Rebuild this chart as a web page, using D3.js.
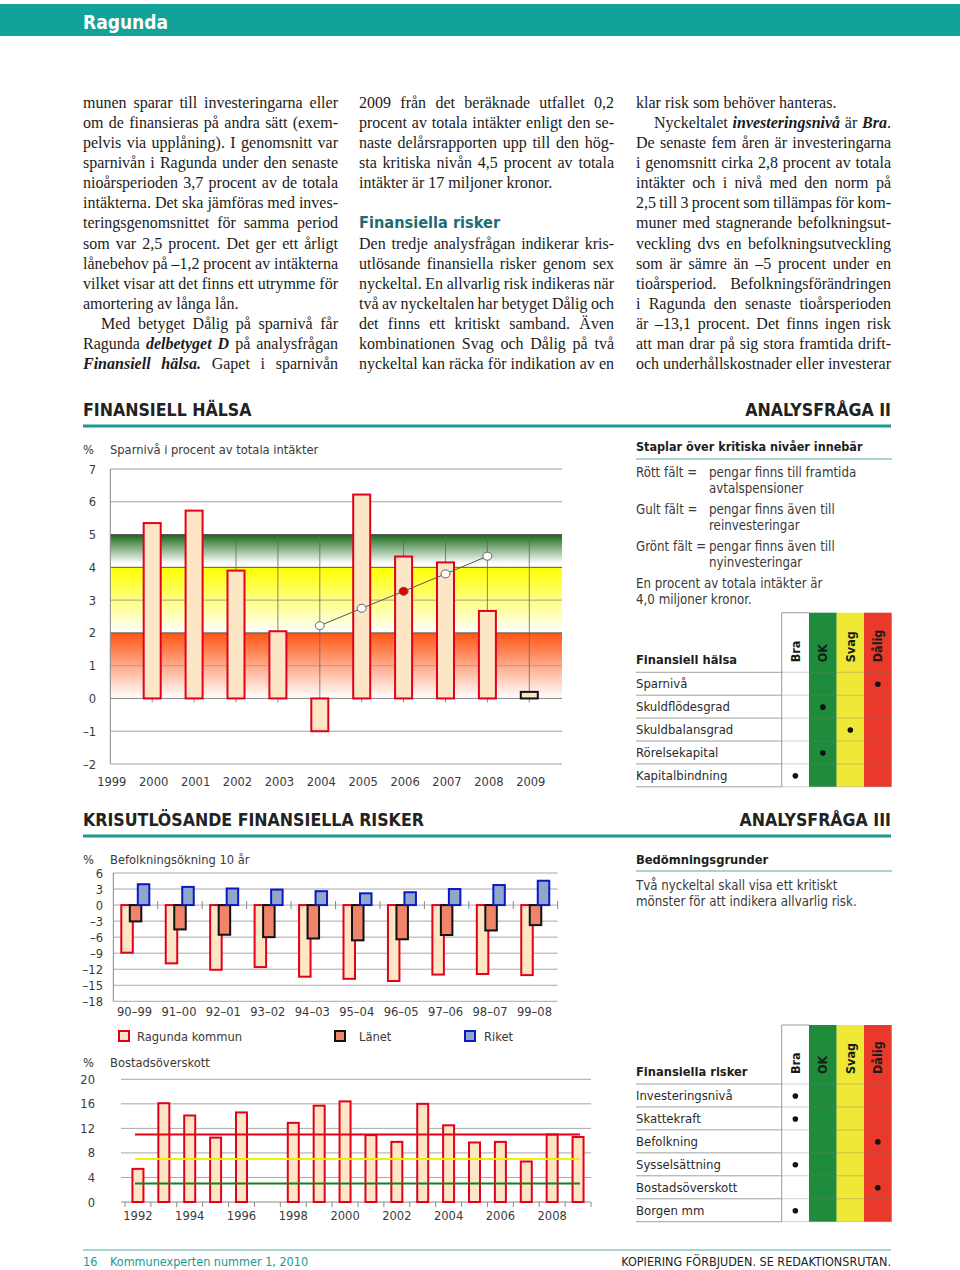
<!DOCTYPE html>
<html><head><meta charset="utf-8">
<script src="https://cdn.jsdelivr.net/npm/d3@7/dist/d3.min.js"></script>
<style>body{margin:0;background:#fff}svg{display:block}</style>
</head><body>
<svg id="page" width="960" height="1270"></svg>
<script>
// ================= DATA =================
const pageTitle = "Ragunda";
const col1Lines = [
 "munen sparar till investeringarna eller",
 "om de finansieras på andra sätt (exem-",
 "pelvis via upplåning). I genomsnitt var",
 "sparnivån i Ragunda under den senaste",
 "nioårsperioden 3,7 procent av de totala",
 "intäkterna. Det ska jämföras med inves-",
 "teringsgenomsnittet för samma period",
 "som var 2,5 procent. Det ger ett årligt",
 "lånebehov på –1,2 procent av intäkterna",
 "vilket visar att det finns ett utrymme för",
 "amortering av långa lån.$",
 "^Med betyget Dålig på sparnivå får",
 "Ragunda {delbetyget D} på analysfrågan",
 "{Finansiell hälsa.} Gapet i sparnivån"
];
const col2Lines = [
 "2009 från det beräknade utfallet 0,2",
 "procent av totala intäkter enligt den se-",
 "naste delårsrapporten upp till den hög-",
 "sta kritiska nivån 4,5 procent av totala",
 "intäkter är 17 miljoner kronor.$",
 "",
 "",
 "Den tredje analysfrågan indikerar kris-",
 "utlösande finansiella risker genom sex",
 "nyckeltal. En allvarlig risk indikeras när",
 "två av nyckeltalen har betyget Dålig och",
 "det finns ett kritiskt samband. Även",
 "kombinationen Svag och Dålig på två",
 "nyckeltal kan räcka för indikation av en"
];
const col2Heading = "Finansiella risker";
const col3Lines = [
 "klar risk som behöver hanteras.$",
 "^Nyckeltalet {investeringsnivå} är {Bra}.",
 "De senaste fem åren är investeringarna",
 "i genomsnitt cirka 2,8 procent av totala",
 "intäkter och i nivå med den norm på",
 "2,5 till 3 procent som tillämpas för kom-",
 "muner med stagnerande befolkningsut-",
 "veckling dvs en befolkningsutveckling",
 "som är sämre än –5 procent under en",
 "tioårsperiod.  Befolkningsförändringen",
 "i Ragunda den senaste tioårsperioden",
 "är –13,1 procent. Det finns ingen risk",
 "att man drar på sig stora framtida drift-",
 "och underhållskostnader eller investerar"
];

// Chart 1: Sparnivå
const sparTitle = "Sparnivå i procent av totala intäkter";
const sparYears = [2000,2001,2002,2003,2004,2005,2006,2007,2008,2009];
const sparValues = [5.35,5.73,3.9,2.05,-1.0,6.22,4.33,4.15,2.67,0.2];
const sparEstimateYear = 2009;
const sparAxisYears = [1999,2000,2001,2002,2003,2004,2005,2006,2007,2008,2009];
const sparTicks = [7,6,5,4,3,2,1,0,-1,-2];
const sparBandLimits = [0,2,4,5];
const trendYears = [2004,2005,2006,2007,2008];
const trendValues = [2.22,2.75,3.27,3.8,4.34];
const trendHighlightYear = 2006;

// Chart 2: Befolkningsökning
const befTitle = "Befolkningsökning 10 år";
const befPeriods = ["90–99","91–00","92–01","93–02","94–03","95–04","96–05","97–06","98–07","99–08"];
const befRagunda = [-8.9,-10.9,-12.1,-11.6,-13.4,-13.8,-14.2,-13.0,-12.9,-13.1];
const befLanet = [-3.05,-4.55,-5.55,-6.0,-6.25,-6.6,-6.4,-5.6,-4.75,-3.75];
const befRiket = [3.9,3.4,3.1,2.9,2.6,2.2,2.4,3.0,3.75,4.55];
const befTicks = [6,3,0,-3,-6,-9,-12,-15,-18];
const befSeriesNames = ["Ragunda kommun","Länet","Riket"];

// Chart 3: Bostadsöverskott
const bostTitle = "Bostadsöverskott";
const bostYears = [1992,1993,1994,1995,1996,1997,1998,1999,2000,2001,2002,2003,2004,2005,2006,2007,2008,2009];
const bostValues = [5.4,16.1,14.1,10.5,14.6,null,12.9,15.7,16.4,10.9,9.8,16.0,12.5,9.7,9.8,6.6,11.0,10.6];
const bostLabelYears = [1992,1994,1996,1998,2000,2002,2004,2006,2008];
const bostTicks = [20,16,12,8,4,0];
const bostLimits = [11,7,3]; // red, yellow, green

// Right panel
const legendTitle = "Staplar över kritiska nivåer innebär";
const legendLines = [
 ["Rött fält =","pengar finns till framtida"],
 ["","avtalspensioner"],
 ["Gult fält =","pengar finns även till"],
 ["","reinvesteringar"],
 ["Grönt fält =","pengar finns även till"],
 ["","nyinvesteringar"],
 ["En procent av totala intäkter är",""],
 ["4,0 miljoner kronor.",""]
];
const ratingCols = ["Bra","OK","Svag","Dålig"];
const halsaTitle = "Finansiell hälsa";
const halsaRows = ["Sparnivå","Skuldflödesgrad","Skuldbalansgrad","Rörelsekapital","Kapitalbindning"];
const halsaRatings = ["Dålig","OK","Svag","OK","Bra"];
const riskTitle = "Finansiella risker";
const riskRows = ["Investeringsnivå","Skattekraft","Befolkning","Sysselsättning","Bostadsöverskott","Borgen mm"];
const riskRatings = ["Bra","Bra","Dålig","Bra","Dålig","Bra"];
const bedTitle = "Bedömningsgrunder";
const bedLines = ["Två nyckeltal skall visa ett kritiskt","mönster för att indikera allvarlig risk."];

const section1 = ["FINANSIELL HÄLSA","ANALYSFRÅGA II"];
const section2 = ["KRISUTLÖSANDE FINANSIELLA RISKER","ANALYSFRÅGA III"];
const footerLeft = ["16","Kommunexperten nummer 1, 2010"];
const footerRight = "KOPIERING FÖRBJUDEN. SE REDAKTIONSRUTAN.";

// ================= DRAWING =================
const SANS = "'DejaVu Sans Condensed','DejaVu Sans',sans-serif";
const SERIF = "'Liberation Serif','Times New Roman',serif";
const TEAL = "#13a29a";
const LIGHTTEAL = "#a9d4cf";
const LABEL = "#3a3a3a";
const BARFILL = "#fde6c6", BARRED = "#e2001a";
const svg = d3.select("#page");
const defs = svg.append("defs");

// Header bar
svg.append("rect").attr("x",0).attr("y",4).attr("width",960).attr("height",32).attr("fill",TEAL);
svg.append("text").attr("x",83).attr("y",29).attr("font-family",SANS).attr("font-weight","bold")
  .attr("font-size",19).attr("fill","#fff").text(pageTitle);

// Body text
function bodyLine(x, y, width, raw) {
  if (!raw) return;
  let justify = true, indent = 0, s = raw;
  if (s.endsWith("$")) { justify = false; s = s.slice(0,-1); }
  if (s.startsWith("^")) { indent = 18; s = s.slice(1); }
  s = s.replace(/\s+/g," ");
  const t = svg.append("text").attr("x", x+indent).attr("y", y)
    .attr("font-family",SERIF).attr("font-size",16).attr("fill","#1b1b1b");
  s.split(/(\{[^}]*\})/).forEach(p => {
    if (!p) return;
    if (p.startsWith("{")) t.append("tspan").attr("font-weight","bold").attr("font-style","italic").text(p.slice(1,-1));
    else t.append("tspan").text(p);
  });
  if (justify) {
    const len = t.node().getComputedTextLength();
    const spaces = (s.replace(/[{}]/g,"").match(/ /g)||[]).length;
    if (spaces) t.style("word-spacing", ((width-indent-len)/spaces).toFixed(3)+"px");
  }
}
const lineY = i => 107.5 + i*20.15;
col1Lines.forEach((l,i)=>bodyLine(83, lineY(i), 255, l));
col2Lines.forEach((l,i)=>bodyLine(359, lineY(i), 255, l));
col3Lines.forEach((l,i)=>bodyLine(636, lineY(i), 255, l));
svg.append("text").attr("x",359).attr("y",lineY(6)).attr("font-family",SANS).attr("font-weight","bold")
  .attr("font-size",16.2).attr("fill","#1f6d74").text(col2Heading);

// Section headers
function sectionHeader(y, left, right) {
  svg.append("text").attr("x",83).attr("y",y).attr("font-family",SANS).attr("font-weight","bold")
    .attr("font-size",17.6).attr("fill","#222").text(left);
  svg.append("text").attr("x",891).attr("y",y).attr("text-anchor","end").attr("font-family",SANS).attr("font-weight","bold")
    .attr("font-size",17.6).attr("fill","#222").text(right);
  svg.append("rect").attr("x",83).attr("y",y+9).attr("width",808).attr("height",3).attr("fill","#1a9a91");
}
sectionHeader(415.5, section1[0], section1[1]);
sectionHeader(825.5, section2[0], section2[1]);

function label(x,y,txt,opts={}) {
  return svg.append("text").attr("x",x).attr("y",y).attr("font-family",SANS)
    .attr("font-size",opts.size||12.8).attr("fill",opts.fill||LABEL)
    .attr("font-weight",opts.bold?"bold":null)
    .attr("text-anchor",opts.anchor||"start").text(txt);
}
const fmtNeg = t => t<0 ? "–"+Math.abs(t) : String(t);

// ---------- Chart 1 ----------
(function(){
  const left = 110.3, right = 562, top = 469, bottom = 764;
  const x = d3.scaleLinear().domain([sparAxisYears[0], sparAxisYears[sparAxisYears.length-1]]).range([left, 529.3]);
  const y = d3.scaleLinear().domain([d3.min(sparTicks), d3.max(sparTicks)]).range([bottom, top]);
  label(83, 453.5, "%");
  label(110, 453.5, sparTitle);
  const g = svg.append("g");
  const grads = [
    {id:"gRed", c:"#ff5513", end:1},
    {id:"gYel", c:"#ffff00", end:1},
    {id:"gGrn", c:"#1a681a", end:0.88}
  ];
  grads.forEach(gr=>{
    const lg = defs.append("linearGradient").attr("id",gr.id).attr("x1",0).attr("y1",0).attr("x2",0).attr("y2",1);
    lg.append("stop").attr("offset",0).attr("stop-color",gr.c);
    lg.append("stop").attr("offset",gr.end).attr("stop-color","#fff");
  });
  for (let i=0;i<sparBandLimits.length-1;i++){
    const lo = sparBandLimits[i], hi = sparBandLimits[i+1];
    g.append("rect").attr("x",left).attr("width",right-left).attr("y",y(hi)).attr("height",y(lo)-y(hi))
      .attr("fill",`url(#${grads[i].id})`);
  }
  sparTicks.forEach(t=>{
    g.append("line").attr("x1",left).attr("x2",right).attr("y1",y(t)).attr("y2",y(t))
      .attr("stroke", sparBandLimits.includes(t)&&t>0 ? "#555" : (t===0?"#888":"#a0a0a0")).attr("stroke-width",1);
    label(96, y(t)+4.5, fmtNeg(t), {anchor:"end"});
  });
  sparYears.forEach(yr=>{
    g.append("line").attr("x1",x(yr)).attr("x2",x(yr)).attr("y1",y(5)).attr("y2",y(0))
      .attr("stroke","#666").attr("stroke-width",0.8);
  });
  g.append("line").attr("x1",left).attr("x2",left).attr("y1",top).attr("y2",bottom).attr("stroke","#888");
  sparYears.forEach(yr=>{
    g.append("line").attr("x1",x(yr)).attr("x2",x(yr)).attr("y1",y(0)).attr("y2",y(0)+4).attr("stroke","#888");
  });
  g.selectAll(".b1").data(sparYears.map((yr,i)=>({yr,v:sparValues[i]}))).join("rect")
    .attr("x",d=>x(d.yr)-8.5).attr("width",17)
    .attr("y",d=>y(Math.max(0,d.v))).attr("height",d=>Math.abs(y(d.v)-y(0)))
    .attr("fill",BARFILL).attr("stroke",d=>d.yr===sparEstimateYear?"#111":BARRED).attr("stroke-width",2);
  const pts = trendYears.map((yr,i)=>[x(yr),y(trendValues[i])]);
  g.append("path").attr("d",d3.line()(pts)).attr("fill","none").attr("stroke","#555").attr("stroke-width",1);
  g.selectAll(".pt").data(trendYears.map((yr,i)=>({yr,v:trendValues[i]}))).join("ellipse")
    .attr("cx",d=>x(d.yr)).attr("cy",d=>y(d.v)).attr("rx",4.5).attr("ry",4)
    .attr("fill",d=>d.yr===trendHighlightYear?"#e00000":"#fff").attr("stroke","#555").attr("stroke-width",0.9);
  sparAxisYears.forEach(yr=>label(x(yr)+1.5, 786, String(yr), {anchor:"middle"}));
})();

// ---------- Chart 2 ----------
(function(){
  const left = 113.3, right = 557.7, top = 873, bottom = 1001.3;
  const x = d3.scaleBand().domain(befPeriods).range([left,right]);
  const y = d3.scaleLinear().domain([d3.min(befTicks), d3.max(befTicks)]).range([bottom, top]);
  label(83, 863.5, "%");
  label(110, 863.5, befTitle);
  const g = svg.append("g");
  befTicks.forEach(t=>{
    g.append("line").attr("x1",left).attr("x2",right).attr("y1",y(t)).attr("y2",y(t)).attr("stroke","#a8a8a8");
    label(103, y(t)+4.5, fmtNeg(t), {anchor:"end"});
  });
  g.append("line").attr("x1",left).attr("x2",left).attr("y1",top).attr("y2",bottom).attr("stroke","#888");
  befPeriods.slice(1).concat([null]).forEach((p)=>{
    const xx = p===null ? right : x(p);
    g.append("line").attr("x1",xx).attr("x2",xx).attr("y1",y(0)-4).attr("y2",y(0)+4).attr("stroke","#888");
  });
  const series = [
    {vals:befRagunda, fill:BARFILL, stroke:BARRED, off:8},
    {vals:befLanet, fill:"#f08469", stroke:"#111", off:16.5},
    {vals:befRiket, fill:"#8fa7c9", stroke:"#0c18c8", off:24.5}
  ];
  series.forEach(s=>{
    g.selectAll(null).data(befPeriods.map((p,i)=>({p,v:s.vals[i]}))).join("rect")
      .attr("x",d=>x(d.p)+s.off).attr("width",11.5)
      .attr("y",d=>y(Math.max(0,d.v))).attr("height",d=>Math.abs(y(d.v)-y(0)))
      .attr("fill",s.fill).attr("stroke",s.stroke).attr("stroke-width",2);
  });
  befPeriods.forEach(p=>label(x(p)+x.bandwidth()/2-1, 1015.5, p, {anchor:"middle"}));
  const lx = [119, 335, 465], tx = [137, 359, 484];
  series.forEach((s,i)=>{
    g.append("rect").attr("x",lx[i]).attr("y",1031).attr("width",10).attr("height",10)
      .attr("fill",s.fill).attr("stroke",s.stroke).attr("stroke-width",2);
    label(tx[i], 1040.5, befSeriesNames[i]);
  });
})();

// ---------- Chart 3 ----------
(function(){
  const left = 125, right = 591, top = 1079.3, bottom = 1202;
  const x = d3.scaleBand().domain(bostYears).range([left,right]);
  const y = d3.scaleLinear().domain([d3.min(bostTicks), d3.max(bostTicks)]).range([bottom, top]);
  label(83, 1066.5, "%");
  label(110, 1066.5, bostTitle);
  const g = svg.append("g");
  bostTicks.forEach(t=>{
    g.append("line").attr("x1",121).attr("x2",right).attr("y1",y(t)).attr("y2",y(t))
      .attr("stroke", t===0 ? "#888" : "#a8a8a8");
    label(95, y(t)+4.5, String(t), {anchor:"end"});
  });
  bostYears.forEach(yr=>{
    g.append("line").attr("x1",x(yr)).attr("x2",x(yr)).attr("y1",bottom).attr("y2",bottom+5).attr("stroke","#888");
  });
  g.append("line").attr("x1",right).attr("x2",right).attr("y1",bottom).attr("y2",bottom+5).attr("stroke","#888");
  const bw = 11;
  g.selectAll(null).data(bostYears.map((yr,i)=>({yr,v:bostValues[i]})).filter(d=>d.v!=null)).join("rect")
    .attr("x",d=>x(d.yr)+x.bandwidth()/2-bw/2).attr("width",bw)
    .attr("y",d=>y(d.v)).attr("height",d=>y(0)-y(d.v))
    .attr("fill",BARFILL).attr("stroke",BARRED).attr("stroke-width",2);
  const limColors = ["#e2001a","#f4ef00","#1d7a1d"];
  bostLimits.forEach((v,i)=>{
    g.append("line").attr("x1",135).attr("x2",580).attr("y1",y(v)).attr("y2",y(v))
      .attr("stroke",limColors[i]).attr("stroke-width",2);
  });
  bostLabelYears.forEach(yr=>label(x(yr)+x.bandwidth()/2, 1219.5, String(yr), {anchor:"middle"}));
})();

// ---------- Right panel ----------
label(636, 451, legendTitle, {bold:true, size:12.5, fill:"#1e1e1e"});
svg.append("rect").attr("x",636).attr("y",458).attr("width",256).attr("height",2).attr("fill",LIGHTTEAL);
const legY = [476.5,492.5,513.5,529.5,550.5,566.5,587.5,603.5];
legendLines.forEach((l,i)=>{
  if (l[0]) label(636, legY[i], l[0], {size:13.2});
  if (l[1]) label(709, legY[i], l[1], {size:13.2});
});

const colX = [781.7, 809, 836.7, 864, 891.7];
const colColors = ["#ffffff","#1f8c3c","#f0e836","#e9392b"];
function ratingTable(top, headBottom, rowH, title, rows, ratings) {
  const g = svg.append("g");
  const bottom = headBottom + rowH*rows.length;
  ratingCols.forEach((c,i)=>{
    g.append("rect").attr("x",colX[i]).attr("y",top).attr("width",colX[i+1]-colX[i]).attr("height",bottom-top)
      .attr("fill",colColors[i]);
  });
  g.append("path").attr("d",`M${colX[0]},${bottom}V${top}H${colX[1]}`).attr("fill","none").attr("stroke","#999").attr("stroke-width",1);
  label(636, headBottom-8.5, title, {bold:true, size:12.8, fill:"#1e1e1e"});
  ratingCols.forEach((c,i)=>{
    const cx = (colX[i]+colX[i+1])/2;
    g.append("text").attr("transform",`translate(${cx+4.6},${headBottom-10})rotate(-90)`)
      .attr("font-family",SANS).attr("font-weight","bold").attr("font-size",12.5).attr("fill","#1a1a1a").text(c);
  });
  for (let r=0;r<=rows.length;r++){
    const yy = headBottom + r*rowH;
    g.append("line").attr("x1",636).attr("x2",colX[0]).attr("y1",yy).attr("y2",yy).attr("stroke","#a0a0a0");
    g.append("line").attr("x1",colX[0]).attr("x2",colX[4]).attr("y1",yy).attr("y2",yy).attr("stroke","#777").attr("stroke-opacity",0.35);
  }
  rows.forEach((rw,r)=>{
    const cy = headBottom + r*rowH + rowH/2;
    label(636, cy+4.5, rw, {size:13, fill:"#2a2a2a"});
    const ci = ratingCols.indexOf(ratings[r]);
    g.append("circle").attr("cx",(colX[ci]+colX[ci+1])/2).attr("cy",cy+0.5).attr("r",2.8).attr("fill","#111");
  });
}
ratingTable(612.7, 672.3, 22.9, halsaTitle, halsaRows, halsaRatings);
ratingTable(1025, 1084, 22.95, riskTitle, riskRows, riskRatings);

label(636, 863.5, bedTitle, {bold:true, size:12.8, fill:"#1e1e1e"});
svg.append("rect").attr("x",636).attr("y",870).attr("width",256).attr("height",2).attr("fill",LIGHTTEAL);
bedLines.forEach((l,i)=>label(636, 889.5+i*16, l, {size:13.2}));

// Footer
svg.append("rect").attr("x",83).attr("y",1249).attr("width",808).attr("height",2).attr("fill",LIGHTTEAL);
label(83, 1265.5, footerLeft[0], {size:12.5, fill:"#1a9a91"});
label(110, 1265.5, footerLeft[1], {size:12.5, fill:"#1a9a91"});
label(891, 1265.5, footerRight, {size:12.5, fill:"#222", anchor:"end"});
</script>
</body></html>
